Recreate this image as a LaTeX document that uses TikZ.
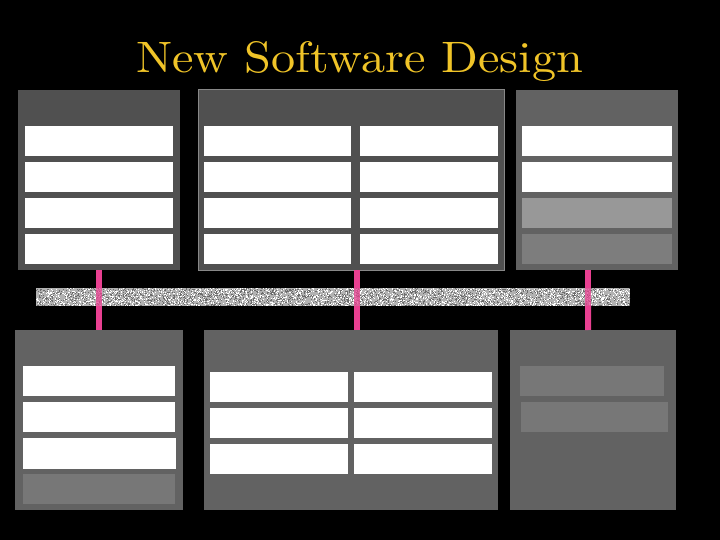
\documentclass[tikz,border=0pt]{standalone}
\usepackage{graphicx}
\definecolor{titlegold}{RGB}{240,196,40}
\definecolor{panelA}{RGB}{80,80,80}
\definecolor{panelB}{RGB}{98,98,98}
\definecolor{cellgray}{RGB}{152,152,152}
\definecolor{celldim}{RGB}{125,125,125}
\definecolor{celldimB}{RGB}{119,119,119}
\definecolor{linkpink}{RGB}{233,64,145}
\definecolor{rimgray}{RGB}{136,136,136}
\definecolor{barbase}{RGB}{178,178,178}
\tikzset{
  panel/.style={draw=none,inner sep=0pt,outer sep=0pt,anchor=north west},
  cell/.style={fill=white},
  link/.style={draw=linkpink,line width=6pt},
  linkthrough/.style={draw=linkpink,line width=6pt,draw opacity=0.75},
}
\begin{document}
\begin{tikzpicture}[x=1pt,y=-1pt]
\fill[black] (0,0) rectangle (720,540);
\useasboundingbox (0,0) rectangle (720,540);
% title
\node[anchor=base west,inner sep=0pt,text=titlegold] (title) at (136,73) {\resizebox{447pt}{31pt}{New Software Design}};
% top panels
\node[panel,fill=panelA,minimum width=162pt,minimum height=180pt] (tl) at (18,90) {};
\node[panel,fill=panelA,draw=rimgray,line width=1pt,minimum width=306pt,minimum height=180pt] (tm) at (198.5,90) {};
\node[panel,fill=panelB,minimum width=162pt,minimum height=180pt] (tr) at (516,90) {};
% bottom panels
\node[panel,fill=panelB,minimum width=168pt,minimum height=180pt] (bl) at (15,330) {};
\node[panel,fill=panelB,minimum width=294pt,minimum height=180pt] (bm) at (204,330) {};
\node[panel,fill=panelB,minimum width=166pt,minimum height=180pt] (br) at (510,330) {};
% top cells
\foreach \y in {126,162,198,234}{
  \fill[cell] (25,\y) rectangle (173,\y+30);
  \fill[cell] (204,\y) rectangle (351,\y+30);
  \fill[cell] (360,\y) rectangle (498,\y+30);
}
\fill[cell] (522,126) rectangle (672,156);
\fill[cell] (522,162) rectangle (672,192);
\fill[cellgray] (522,198) rectangle (672,228);
\fill[celldim] (522,234) rectangle (672,264);
% bottom cells
\fill[cell] (23,366) rectangle (175,396);
\fill[cell] (23,402) rectangle (175,432);
\fill[cell] (23,438) rectangle (176,469);
\fill[celldimB] (23,474) rectangle (175,504);
\foreach \y in {372,408,444}{
  \fill[cell] (210,\y) rectangle (348,\y+30);
  \fill[cell] (354,\y) rectangle (492,\y+30);
}
\fill[celldimB] (520,366) rectangle (664,396);
\fill[celldimB] (521,402) rectangle (668,432);
% bus bar
\node[panel,fill=barbase,minimum width=594pt,minimum height=17.5pt] (bar) at (36,288) {};
\begin{scope}
  \clip (36,288) rectangle (630,305.5);
  \pgfmathsetseed{7}
  \foreach \i in {1,...,2800}{
    \pgfmathsetmacro\rx{36+594*rnd}
    \pgfmathsetmacro\ry{288+17.5*rnd}
    \fill[black!58] (\rx,\ry) rectangle ++(1,1);
  }
  \foreach \i in {1,...,2200}{
    \pgfmathsetmacro\rx{36+594*rnd}
    \pgfmathsetmacro\ry{288+17.5*rnd}
    \fill[white] (\rx,\ry) rectangle ++(1,1);
  }
\end{scope}
% connectors
\draw[link] (tl.south) -- (tl.south |- bar.north);
\draw[link] ([xshift=5.5pt]tm.south) -- ([xshift=5.5pt]tm.south |- bar.north);
\draw[link] ([xshift=-9pt]tr.south) -- ([xshift=-9pt]tr.south |- bar.north);
\draw[link] (bar.south -| bl.north) -- (bl.north);
\draw[link] (bar.south -| 357,0) -- ([xshift=6pt]bm.north);
\draw[link] (bar.south -| 588,0) -- ([xshift=-4.8pt]br.north);
\draw[linkthrough] (bar.north -| bl.north) -- (bar.south -| bl.north);
\draw[linkthrough] (bar.north -| 357,0) -- (bar.south -| 357,0);
\draw[linkthrough] (bar.north -| 588,0) -- (bar.south -| 588,0);
\end{tikzpicture}
\end{document}
